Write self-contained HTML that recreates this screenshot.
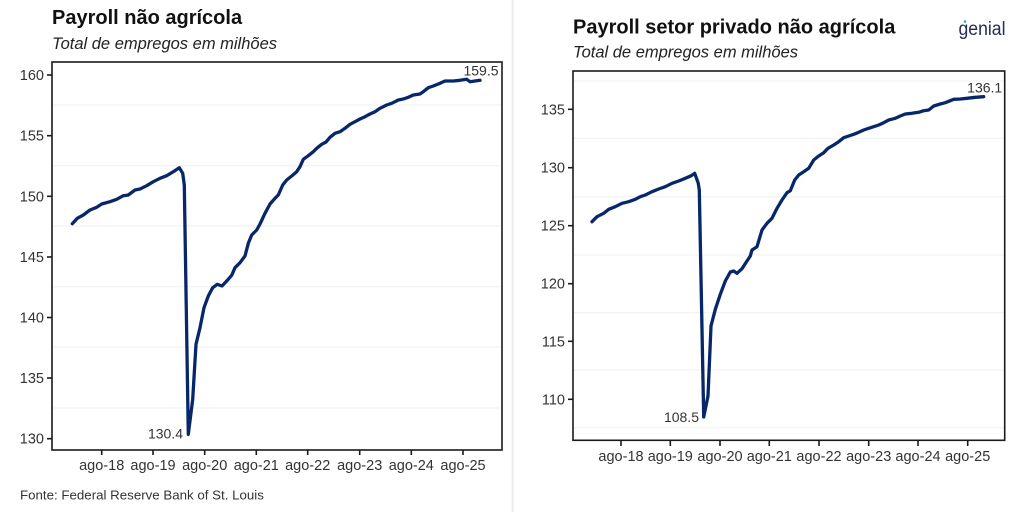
<!DOCTYPE html>
<html><head><meta charset="utf-8"><style>
html,body{margin:0;padding:0;background:#fff;}
svg{display:block;}
text{font-family:"Liberation Sans",Arial,sans-serif;}
</style></head><body>
<svg width="1024" height="512" viewBox="0 0 1024 512" xmlns="http://www.w3.org/2000/svg">
<rect width="1024" height="512" fill="#fff"/>
<line x1="512.5" y1="0" x2="512.5" y2="512" stroke="#ebebeb" stroke-width="2"/>

<!-- LEFT CHART -->
<text x="52" y="24" font-size="20" font-weight="bold" fill="#111">Payroll não agrícola</text>
<text x="52" y="49" font-size="16.5" font-style="italic" fill="#222">Total de empregos em milhões</text>
<g stroke="#efefef" stroke-width="1">
<line x1="52" y1="105" x2="502" y2="105"/><line x1="52" y1="165.7" x2="502" y2="165.7"/>
<line x1="52" y1="226" x2="502" y2="226"/><line x1="52" y1="286.7" x2="502" y2="286.7"/>
<line x1="52" y1="347" x2="502" y2="347"/><line x1="52" y1="408" x2="502" y2="408"/>
</g>
<rect x="52" y="62" width="450" height="388" fill="none" stroke="#1a1a1a" stroke-width="1.6"/>
<g stroke="#1a1a1a" stroke-width="1.6">
<line x1="47" y1="75" x2="52" y2="75"/><line x1="47" y1="135.7" x2="52" y2="135.7"/>
<line x1="47" y1="196.3" x2="52" y2="196.3"/><line x1="47" y1="257" x2="52" y2="257"/>
<line x1="47" y1="317.5" x2="52" y2="317.5"/><line x1="47" y1="378" x2="52" y2="378"/>
<line x1="47" y1="438.7" x2="52" y2="438.7"/>
<line x1="101.7" y1="450" x2="101.7" y2="455"/><line x1="153" y1="450" x2="153" y2="455"/>
<line x1="204.7" y1="450" x2="204.7" y2="455"/><line x1="256.3" y1="450" x2="256.3" y2="455"/>
<line x1="307.7" y1="450" x2="307.7" y2="455"/><line x1="359.7" y1="450" x2="359.7" y2="455"/>
<line x1="411.3" y1="450" x2="411.3" y2="455"/><line x1="463" y1="450" x2="463" y2="455"/>
</g>
<g font-size="14.5" fill="#333" text-anchor="end">
<text x="44" y="80">160</text><text x="44" y="140.7">155</text><text x="44" y="201.3">150</text>
<text x="44" y="262">145</text><text x="44" y="322.5">140</text><text x="44" y="383">135</text>
<text x="44" y="443.7">130</text>
</g>
<g font-size="14.5" fill="#333" text-anchor="middle">
<text x="101.7" y="470">ago-18</text><text x="153" y="470">ago-19</text><text x="204.7" y="470">ago-20</text>
<text x="256.3" y="470">ago-21</text><text x="307.7" y="470">ago-22</text><text x="359.7" y="470">ago-23</text>
<text x="411.3" y="470">ago-24</text><text x="463" y="470">ago-25</text>
</g>
<polyline fill="none" stroke="#08276a" stroke-width="3.3" stroke-linejoin="round" stroke-linecap="round" points="72.3,223.7 77.3,218.3 83.3,215 90,210 96.7,207.3 101.7,204 110,201.7 116.7,199.3 123.3,195.7 128.3,195 135,190 140,189 146.7,185.7 153.3,181.7 160,178.3 166.7,175.7 173.3,171.7 179.3,167.7 182.7,173.3 184.3,185 188.3,434.3 192.7,399.3 196,344.3 200,327.7 204,307.7 208.3,296 212.7,287.7 217.3,284.3 222,286 226.7,281 231.7,275.3 235,267.7 240,262.7 245,256 248.3,243.3 251.7,235 256.7,230 260,224 265,213.3 270,204 275,198.3 278.3,195 282.7,185 286.7,180 291.7,176 296.7,171.7 300,166.7 303.3,159.3 308.3,155.7 313.3,151.7 316.7,148.3 321.7,144.3 326,142 330,137.3 335,133.3 340,131.7 345,128.3 350,124.3 355,121.7 360,119 365,116.7 370,114 375,111.7 380,108.3 386.7,105 391.7,103.3 398.3,100 403.3,99 408.3,97.3 413.3,95 420,94 423.3,91.7 428.3,87.7 433.3,86 440,83.3 445,81 453.3,81 460,80.3 466.7,79.3 470,81.7 475,81 480,80.3"/>
<text x="481" y="75.5" font-size="14" fill="#333" text-anchor="middle" stroke="#fff" stroke-width="3" paint-order="stroke">159.5</text>
<text x="183" y="438.7" font-size="14" fill="#333" text-anchor="end">130.4</text>
<text x="20" y="499.5" font-size="13.3" fill="#333">Fonte: Federal Reserve Bank of St. Louis</text>

<!-- RIGHT CHART -->
<text x="573" y="33.3" font-size="20" font-weight="bold" fill="#111">Payroll setor privado não agrícola</text>
<text x="573" y="57.5" font-size="16.5" font-style="italic" fill="#222">Total de empregos em milhões</text>
<text x="958.5" y="35" font-size="19" fill="#262b58" textLength="47" lengthAdjust="spacingAndGlyphs">genial</text>
<circle cx="965" cy="21.5" r="1.3" fill="#2aa8e0"/>
<g stroke="#efefef" stroke-width="1">
<line x1="573" y1="81" x2="1004.7" y2="81"/><line x1="573" y1="138.3" x2="1004.7" y2="138.3"/>
<line x1="573" y1="196.7" x2="1004.7" y2="196.7"/><line x1="573" y1="255" x2="1004.7" y2="255"/>
<line x1="573" y1="312.7" x2="1004.7" y2="312.7"/><line x1="573" y1="370" x2="1004.7" y2="370"/>
<line x1="573" y1="427.7" x2="1004.7" y2="427.7"/>
</g>
<rect x="573" y="71" width="431.7" height="369.3" fill="none" stroke="#1a1a1a" stroke-width="1.6"/>
<g stroke="#1a1a1a" stroke-width="1.6">
<line x1="568" y1="109.3" x2="573" y2="109.3"/><line x1="568" y1="167.7" x2="573" y2="167.7"/>
<line x1="568" y1="225.7" x2="573" y2="225.7"/><line x1="568" y1="283.7" x2="573" y2="283.7"/>
<line x1="568" y1="341.3" x2="573" y2="341.3"/><line x1="568" y1="399.3" x2="573" y2="399.3"/>
<line x1="621" y1="440.3" x2="621" y2="446"/><line x1="670.3" y1="440.3" x2="670.3" y2="446"/>
<line x1="720" y1="440.3" x2="720" y2="446"/><line x1="769.3" y1="440.3" x2="769.3" y2="446"/>
<line x1="819" y1="440.3" x2="819" y2="446"/><line x1="868.7" y1="440.3" x2="868.7" y2="446"/>
<line x1="918" y1="440.3" x2="918" y2="446"/><line x1="967.7" y1="440.3" x2="967.7" y2="446"/>
</g>
<g font-size="14.5" fill="#333" text-anchor="end">
<text x="565" y="114.3">135</text><text x="565" y="172.7">130</text><text x="565" y="230.7">125</text>
<text x="565" y="288.7">120</text><text x="565" y="346.3">115</text><text x="565" y="404.3">110</text>
</g>
<g font-size="14.5" fill="#333" text-anchor="middle">
<text x="621" y="461">ago-18</text><text x="670.3" y="461">ago-19</text><text x="720" y="461">ago-20</text>
<text x="769.3" y="461">ago-21</text><text x="819" y="461">ago-22</text><text x="868.7" y="461">ago-23</text>
<text x="918" y="461">ago-24</text><text x="967.7" y="461">ago-25</text>
</g>
<polyline fill="none" stroke="#08276a" stroke-width="3.3" stroke-linejoin="round" stroke-linecap="round" points="592,221.7 597,216.7 603.7,213.3 608.7,209.3 615.3,206.7 622,203.3 628.7,201.7 635.3,199.3 640.3,196.7 645.3,195 652,191.7 658.7,189 665.3,186.7 672,183.3 678.7,181 685.3,178.3 691.3,175.7 694.7,173.3 698.2,183 699.3,190 703.7,417 708,396 711,326 715.3,309.3 720.3,294.3 725.3,281 730.3,272 733.7,271 737,273.3 742,268.7 747,261 750.3,256 752,250 757,246.7 762,230 767,223.3 772,218.3 777,208.3 782,200 787,192.7 790.3,190.7 794.7,180 798.7,175 803.7,171.7 808.7,168.3 813.7,160 818.7,156 823.7,152.7 828,148.3 833.7,145 838.7,141.7 843.7,137.7 848.7,136 853.7,134.3 858.7,132.3 863.7,130 868.7,128.3 873.7,126.7 878.7,125 883.7,122.7 888.7,120 895.3,118.3 900.3,116 905.3,114 912,113.3 918.7,112.3 923.7,110.7 928.7,110 933.7,106 940.3,104 945.3,102.7 953.7,99.3 960.3,99 967,98.3 975.3,97.3 983.7,96.7"/>
<text x="984.7" y="92.3" font-size="14" fill="#333" text-anchor="middle" stroke="#fff" stroke-width="3" paint-order="stroke">136.1</text>
<text x="699" y="422" font-size="14" fill="#333" text-anchor="end">108.5</text>
</svg>
</body></html>
